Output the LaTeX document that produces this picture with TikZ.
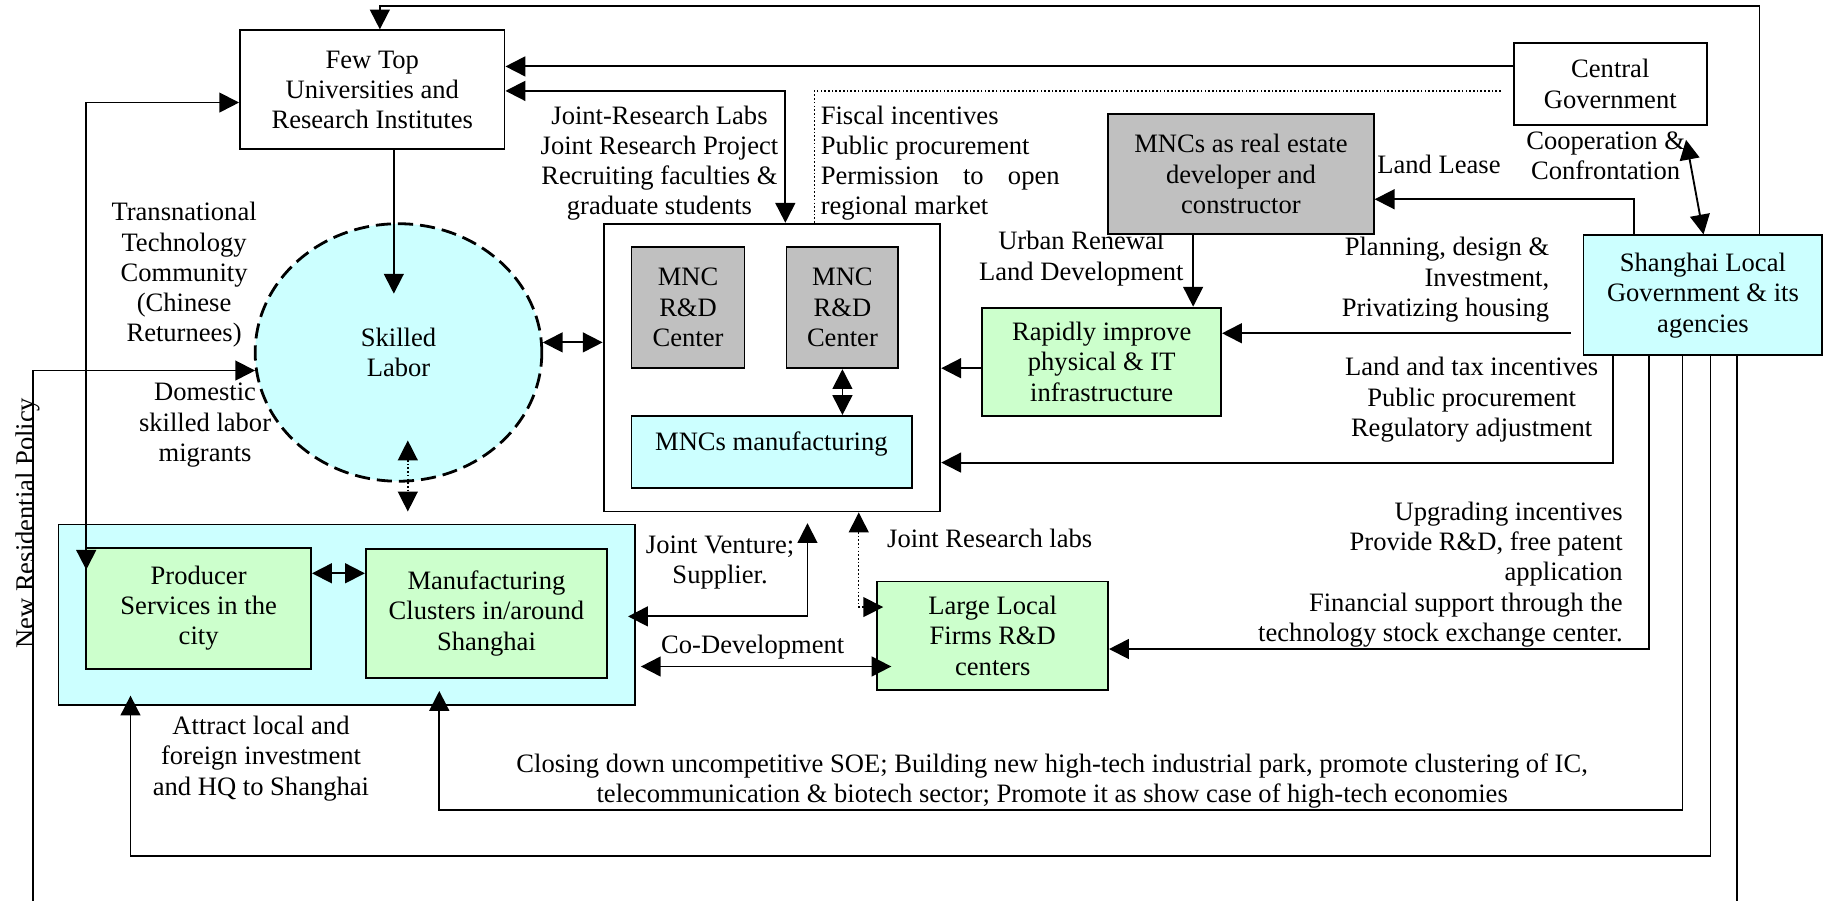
\documentclass[tikz,border=0pt]{standalone}
\usepackage{fontspec}
\setmainfont{Liberation Serif}
\usetikzlibrary{arrows.meta,shapes.geometric}
\definecolor{cy}{HTML}{CCFFFF}
\definecolor{gr}{HTML}{CCFFCC}
\definecolor{gy}{HTML}{C0C0C0}
\tikzset{
 box/.style={draw, line width=0.8pt, inner sep=0pt, align=center},
 bx/.style 2 args={minimum width=#1*0.5pt, minimum height=#2*0.5pt},
 lbl/.style={align=center, inner sep=0pt},
 conn/.style={line width=0.8pt},
 arr/.style={conn, -{Triangle[length=8.5pt,width=8.5pt]}},
 arr2/.style={conn, {Triangle[length=8.5pt,width=8.5pt]}-{Triangle[length=8.5pt,width=8.5pt]}},
 dot/.style={line width=0.6pt, dash pattern=on 0.7pt off 0.9pt},
}
\begin{document}
\begin{tikzpicture}[x=0.5pt,y=-0.5pt, every node/.style={font=\fontsize{11.4}{13}\selectfont}]
\fill[white] (0,0) rectangle (1568,773);
\useasboundingbox (0,0) rectangle (1568,773);

% label drawn under box
\node[lbl] (urb) at (928,222) {Urban Renewal\\Land Development};

% boxes
\node[box, fill=white, bx={227}{102}] (top) at (319.5,77) {Few Top\\Universities and\\Research Institutes};
\node[box, fill=white, bx={166}{70}] (cg) at (1382,72) {Central\\Government};
\node[box, fill=gy, bx={228}{103}] (re) at (1065,149.5) {MNCs as real estate\\developer and\\constructor};
\node[box, fill=cy, bx={205}{103}] (sh) at (1461.5,253.5) {Shanghai Local\\Government \& its\\agencies};
\node[ellipse, draw, fill=cy, line width=1.2pt, dash pattern=on 6.5pt off 3pt, minimum width=123pt, minimum height=110.5pt, inner sep=0pt, align=center] (sk) at (342,302.5) {Skilled\\Labor};
\node[box, fill=white, bx={289}{247}] (mnc) at (662.5,315.5) {};
\node[box, fill=gy, bx={97}{104}] (rd1) at (590.5,264) {MNC\\R\&D\\Center};
\node[box, fill=gy, bx={96}{104}] (rd2) at (723,264) {MNC\\R\&D\\Center};
\node[box, fill=cy, bx={241}{62}] (mfg) at (662.5,388) {};
\node[lbl] (mfgt) at (662,381) {MNCs manufacturing};
\node[box, fill=gr, bx={205}{93}] (rap) at (945.5,310.5) {Rapidly improve\\physical \& IT\\infrastructure};
\node[box, fill=cy, line width=0.6pt, bx={495}{155}] (out) at (297.5,527.5) {};
\node[box, fill=gr, bx={193}{104}] (prod) at (170.5,522) {Producer\\Services in the\\city};
\node[box, fill=gr, bx={207}{111}] (clus) at (417.5,526.5) {Manufacturing\\Clusters in/around\\Shanghai};
\node[box, fill=gr, bx={198}{93}] (llf) at (852,545.5) {Large Local\\Firms R\&D\\centers};

% labels
\node[lbl] (ttc) at (158,236) {Transnational\\Technology\\Community\\(Chinese\\Returnees)};
\node[lbl] (dom) at (176,365) {Domestic\\skilled labor\\migrants};
\node[lbl] (jrl) at (566,140) {Joint-Research Labs\\Joint Research Project\\Recruiting faculties \&\\graduate students};
\node[lbl, align=left, anchor=west] (fis) at (704,140) {Fiscal incentives\\Public procurement\\\makebox[102.5pt][s]{Permission to open}\\regional market};
\node[lbl] (ll) at (1235,141) {Land Lease};
\node[lbl] (coop) at (1378,134) {Cooperation \&\\Confrontation};
\node[lbl, align=right, anchor=east] (plan) at (1330,240) {Planning, design \&\\Investment,\\Privatizing housing};
\node[lbl] (ltax) at (1263,343) {Land and tax incentives\\Public procurement\\Regulatory adjustment};
\node[lbl, align=right, anchor=east] (upg) at (1393,493) {Upgrading incentives\\Provide R\&D, free patent\\application\\Financial support through the\\technology stock exchange center.};
\node[lbl] (jv) at (618,483) {Joint Venture;\\Supplier.};
\node[lbl, anchor=west] (jrlab) at (761,462) {Joint Research labs};
\node[lbl] (codev) at (646,555) {Co-Development};
\node[lbl] (attr) at (224,651) {Attract local and\\foreign investment\\and HQ to Shanghai};
\node[lbl] (clos) at (903,670) {Closing down uncompetitive SOE; Building new high-tech industrial park, promote clustering of IC,\\telecommunication \& biotech sector; Promote it as show case of high-tech economies};
\node[lbl, rotate=90, anchor=base] (nrp) at (29,449) {New Residential Policy};

% connectors
\coordinate (a1) at (1510,5); \coordinate (a2) at (326,5);
\draw[arr] (sh.north -| a1) -- (a1) -- (a2) -- (top.north -| a2);
\coordinate (b1) at (0,57);
\draw[arr] (cg.west |- b1) -- (top.east |- b1);
\coordinate (c1) at (674,78);
\draw[arr2] (top.east |- c1) -- (c1) -- (mnc.north -| c1);
\coordinate (d1) at (1288,78); \coordinate (d2) at (699,78);
\draw[dot] (d1) -- (d2) -- (mnc.north -| d2);
\coordinate (e1) at (338,252);
\draw[arr] (top.south -| e1) -- (e1);
\draw[arr2] (sk.4) -- (mnc.west |- sk.4);
\coordinate (g1) at (74,88); \coordinate (g2) at (74,489);
\draw[arr2] (top.west |- g1) -- (g1) -- (g2);
\coordinate (h1) at (28,773); \coordinate (h2) at (28,318);
\draw[arr] (h1) -- (h2) -- (sk.187 |- h2);
\coordinate (j1) at (350,378); \coordinate (j2) at (350,439);
\draw[arr2, dot] (j1) -- (j2);
\coordinate (k1) at (0,492);
\draw[arr2] (prod.east |- k1) -- (clus.west |- k1);
\coordinate (l1) at (539,529); \coordinate (l2) at (693,529); \coordinate (l3) at (693,449);
\draw[arr2] (l1) -- (l2) -- (l3);
\coordinate (m2) at (737,521); \coordinate (m3) at (758,521);
\draw[arr2, dot] (mnc.south -| m2) -- (m2) -- (m3);
\coordinate (n1) at (550,572); \coordinate (n2) at (765,572);
\draw[arr2] (n1) -- (n2);
\coordinate (o1) at (1415,557);
\draw[arr] (sh.south -| o1) -- (o1) -- (llf.east |- o1);
\coordinate (p1) at (1384,397);
\draw[arr] (sh.south -| p1) -- (p1) -- (mnc.east |- p1);
\coordinate (q1) at (1348,286);
\draw[arr] (q1) -- (rap.east |- q1);
\coordinate (r1) at (1402,171);
\draw[arr] (sh.north -| r1) -- (r1) -- (re.east |- r1);
\coordinate (s1) at (1024,0);
\draw[arr] (re.south -| s1) -- (rap.north -| s1);
\coordinate (t1) at (0,316);
\draw[arr] (rap.west |- t1) -- (mnc.east |- t1);
\coordinate (u1) at (1447,120); \coordinate (u2) at (1462,0);
\draw[arr2] (u1) -- (sh.north -| u2);
\draw[arr2] (rd2.south) -- (mfg.north -| rd2.south);
\coordinate (w1) at (1444,695); \coordinate (w2) at (377,695); \coordinate (w3) at (377,593);
\draw[arr] (sh.south -| w1) -- (w1) -- (w2) -- (w3);
\coordinate (x1) at (1468,735); \coordinate (x2) at (112,735); \coordinate (x3) at (112,597);
\draw[arr] (sh.south -| x1) -- (x1) -- (x2) -- (x3);
\coordinate (y1) at (1491,773);
\draw[conn] (sh.south -| y1) -- (y1);
\end{tikzpicture}
\end{document}
